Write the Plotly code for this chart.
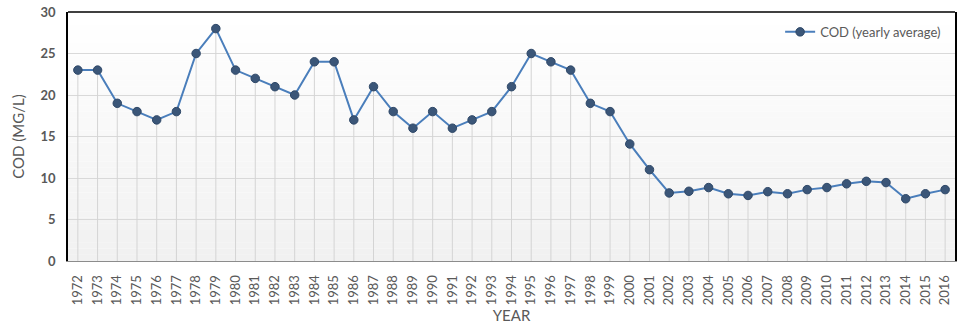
import plotly.graph_objects as go

years = [str(y) for y in range(1972, 2017)]
cod = [23, 23, 19, 18, 17, 18, 25, 28, 23, 22, 21, 20, 24, 24, 17, 21, 18, 16, 18, 16,
       17, 18, 21, 25, 24, 23, 19, 18, 14.1, 11.0, 8.2, 8.4, 8.85, 8.1, 7.9, 8.35, 8.1,
       8.6, 8.85, 9.3, 9.6, 9.45, 7.5, 8.1, 8.6]
y_ticks = [0, 5, 10, 15, 20, 25, 30]

FONT = "Lato"
fig = go.Figure()

# drop lines
fig.add_trace(go.Scatter(
    x=years, y=cod, mode="markers", marker=dict(opacity=0, size=1),
    error_y=dict(type="data", symmetric=False, array=[0] * len(cod), arrayminus=cod,
                 color="#d4d4d4", thickness=1, width=0),
    showlegend=False, hoverinfo="skip"))

fig.add_trace(go.Scatter(
    x=years, y=cod, mode="lines+markers", name="COD (yearly average)",
    line=dict(color="#4a7ebb", width=2),
    marker=dict(color="#3b5678", size=8.5, line=dict(color="#2f4868", width=1))))

# gradient background bands
n = 40
shapes = []
for i in range(n):
    t = i / (n - 1)
    v = round(255 - 14 * (1 - t))
    shapes.append(dict(type="rect", xref="paper", yref="paper", x0=0, x1=1,
                       y0=i / n, y1=(i + 1) / n, fillcolor=f"rgb({v},{v},{v})",
                       line=dict(width=0), layer="below"))
shapes.append(dict(type="line", xref="paper", yref="paper", x0=0, x1=1, y0=1, y1=1,
                   line=dict(color="#000000", width=1.5)))

fig.update_layout(
    width=967, height=328,
    margin=dict(l=68, r=12, t=12, b=67),
    paper_bgcolor="white", plot_bgcolor="white",
    font=dict(family=FONT, color="#595959"),
    shapes=shapes,
    legend=dict(x=0.99, y=0.92, xanchor="right", yanchor="middle",
                bgcolor="rgba(0,0,0,0)", font=dict(size=13, color="#595959")),
    xaxis=dict(type="category", range=[-0.5, len(years) - 0.5], automargin=False,
               showgrid=False, tickangle=-90, tickfont=dict(size=13, color="#595959"),
               showline=True, linecolor="#8c8c8c", linewidth=1,
               ticks="outside", ticklen=8, tickcolor="rgba(0,0,0,0)",
               title=dict(text="YEAR", font=dict(size=15, color="#595959"), standoff=6)),
    yaxis=dict(range=[0, 30], tickvals=y_ticks, showgrid=True, gridcolor="#d9d9d9",
               gridwidth=1, zeroline=False, automargin=False,
               tickfont=dict(size=13, color="#595959", weight="bold"),
               showline=True, mirror=True, linecolor="#000000", linewidth=1.5,
               ticks="outside", ticklen=8, tickcolor="rgba(0,0,0,0)",
               title=dict(text="COD (MG/L)", font=dict(size=15, color="#595959"), standoff=12)),
)

fig.write_html("out.html")
